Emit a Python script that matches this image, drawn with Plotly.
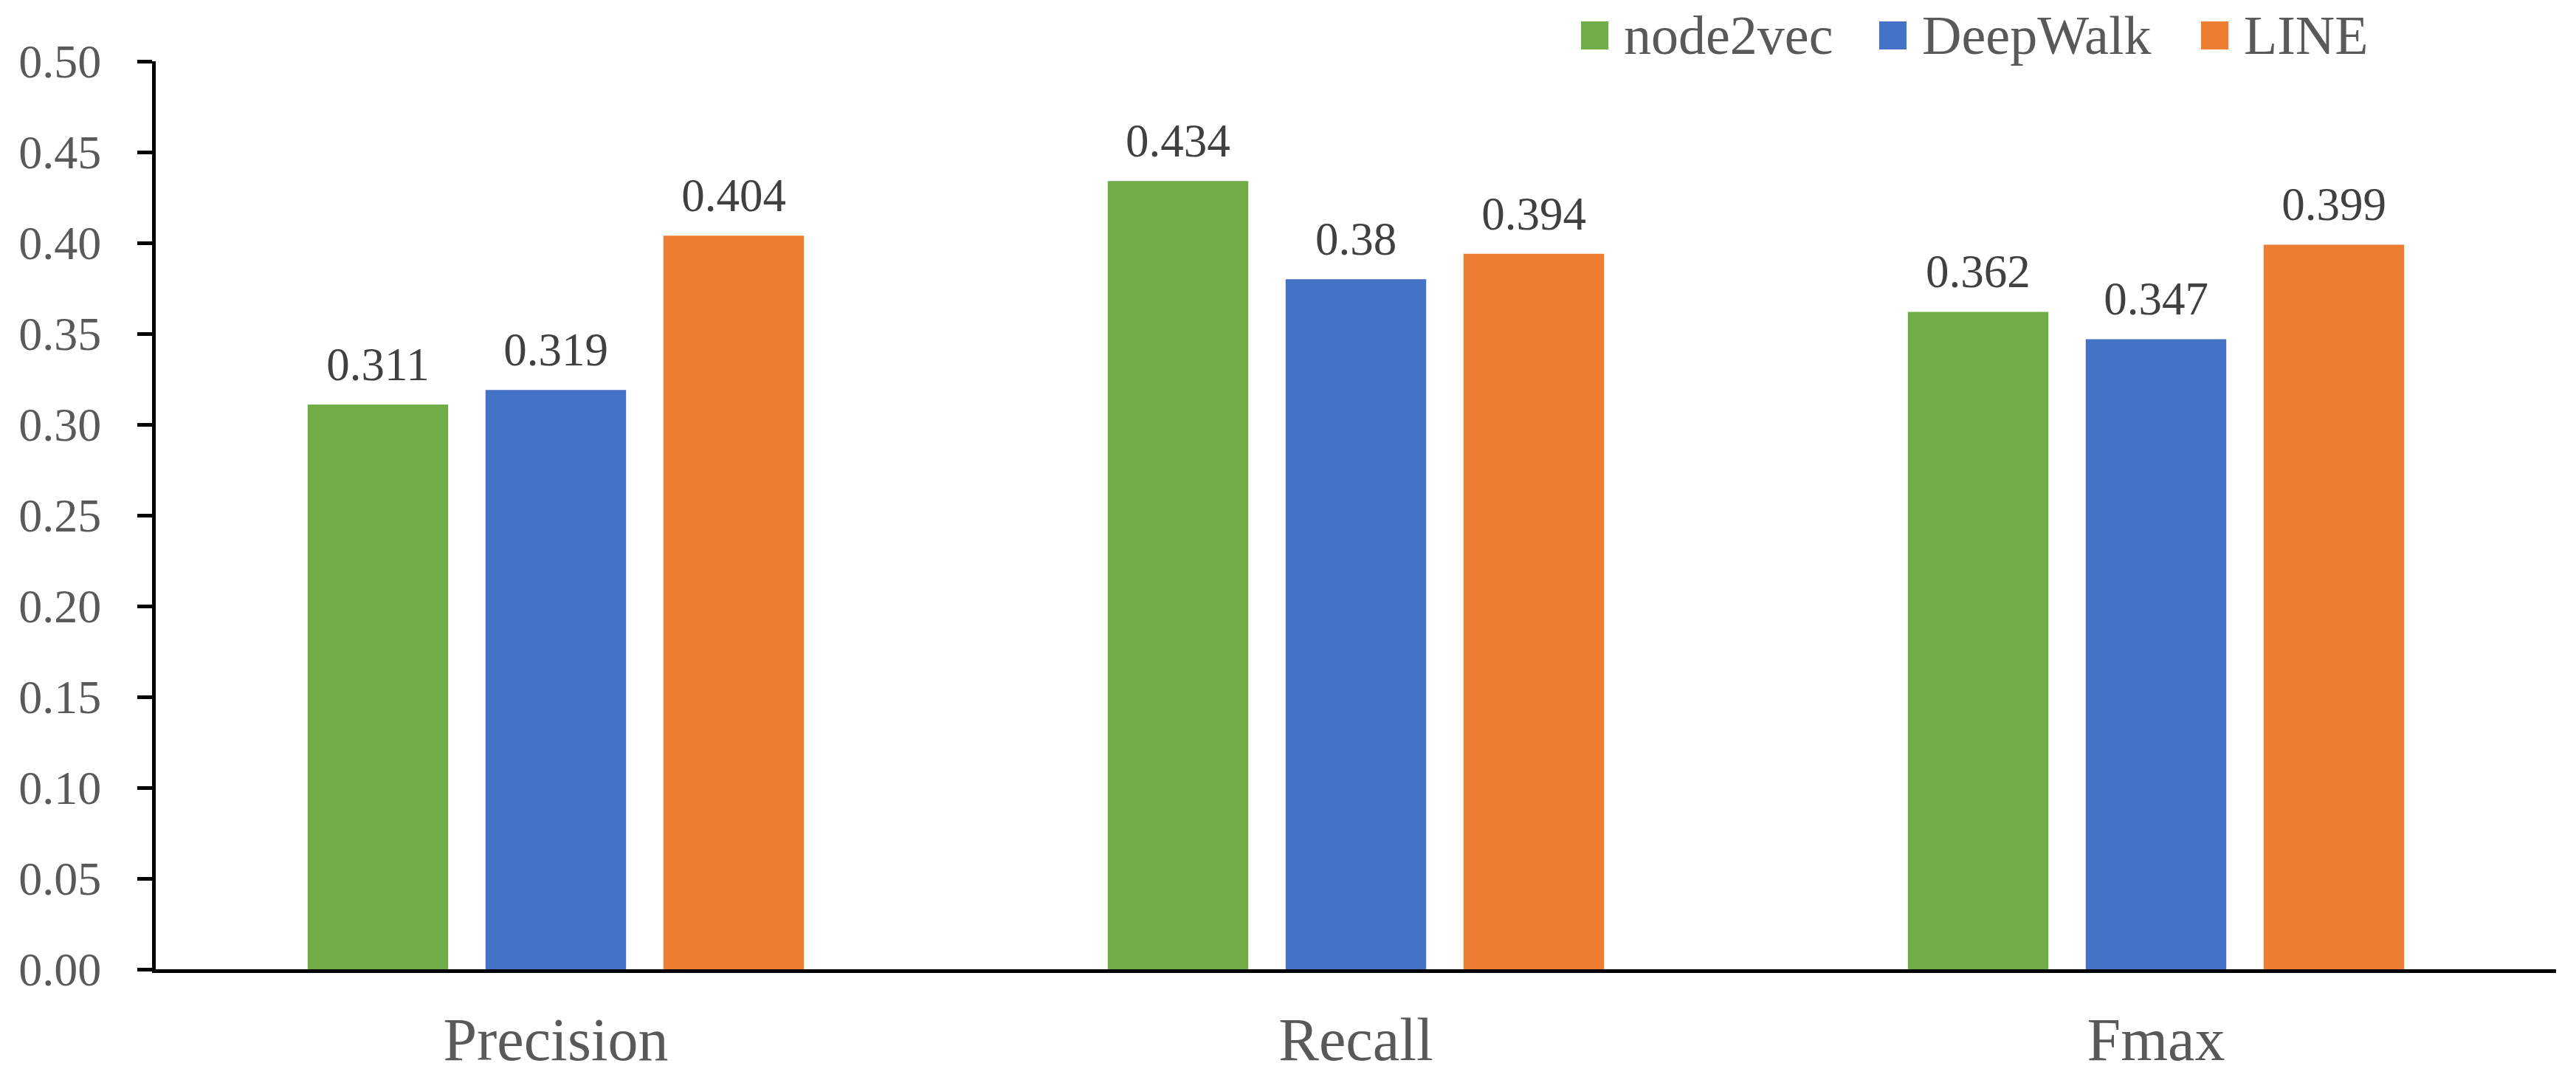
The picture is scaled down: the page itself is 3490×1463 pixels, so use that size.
import plotly.graph_objects as go

categories = ["Precision", "Recall", "Fmax"]
methods = ["node2vec", "DeepWalk", "LINE"]
node2vec_vals = [0.311, 0.434, 0.362]
deepwalk_vals = [0.319, 0.38, 0.347]
line_vals = [0.404, 0.394, 0.399]
y_ticks = [0.0, 0.05, 0.10, 0.15, 0.20, 0.25, 0.30, 0.35, 0.40, 0.45, 0.50]

colors = ["#70AD47", "#4472C4", "#ED7D31"]
series = [node2vec_vals, deepwalk_vals, line_vals]
FONT = "Liberation Serif"

fig = go.Figure()

for name, vals, col in zip(methods, series, colors):
    fig.add_trace(go.Bar(
        x=categories, y=vals, name=name,
        marker=dict(color=col, line=dict(width=0)),
        showlegend=False, hoverinfo="skip",
    ))

# value labels, grouped like the bars so they sit over each bar
for name, vals in zip(methods, series):
    fig.add_trace(go.Scatter(
        x=categories, y=vals, mode="markers+text",
        text=[f"{v:g}" for v in vals], textposition="top center",
        textfont=dict(family=FONT, size=63, color="#404040"),
        marker=dict(size=26, color="rgba(0,0,0,0)"),
        showlegend=False, hoverinfo="skip", cliponaxis=False,
    ))

# legend keys drawn as shapes + text (large squares like the original)
legend_x = [0.5938, 0.7180, 0.8521]
for name, col, lx in zip(methods, colors, legend_x):
    fig.add_shape(type="rect", xref="paper", yref="paper",
                  x0=lx, x1=lx + 0.0114, y0=1.0130, y1=1.0439,
                  fillcolor=col, line=dict(width=0))
    fig.add_annotation(x=lx + 0.0172, y=1.0285, xref="paper", yref="paper",
                       text=name, showarrow=False, xanchor="left", yanchor="middle",
                       font=dict(family=FONT, size=74, color="#595959"))

# page body adds an 8px margin, so the figure is a bit smaller than the window
fig.update_layout(
    width=3482, height=1455,
    margin=dict(l=203, r=27, t=75, b=150),
    plot_bgcolor="white", paper_bgcolor="white",
    barmode="group", bargap=0.333, bargroupgap=0.21,
    scattermode="group", scattergap=0.333,
    font=dict(family=FONT, color="#595959"),
    xaxis=dict(
        showline=True, linecolor="black", linewidth=5,
        ticks="", showgrid=False, zeroline=False, automargin=False,
        tickfont=dict(family=FONT, size=82, color="#595959"),
        ticklabelstandoff=20,
    ),
    yaxis=dict(
        range=[0, 0.5], tickvals=y_ticks, tickformat=".2f",
        showline=True, linecolor="black", linewidth=5,
        ticks="outside", ticklen=20, tickwidth=5, tickcolor="black",
        showgrid=False, zeroline=False, automargin=False,
        tickfont=dict(family=FONT, size=64, color="#595959"),
        ticklabelstandoff=36,
    ),
)

fig.write_html("out.html")
